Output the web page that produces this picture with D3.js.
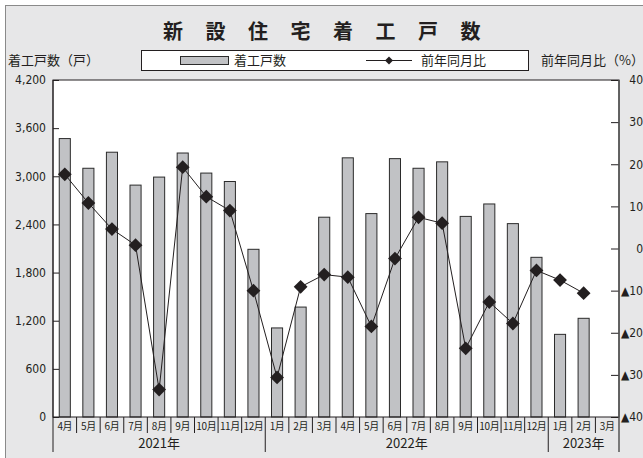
<!DOCTYPE html>
<html>
<head>
<meta charset="utf-8">
<script src="https://cdn.jsdelivr.net/npm/d3@7"></script>
<style>
  body { margin: 0; background: #fff; }
  text { fill: #231f20; }
  .jp { font-family: "Noto Sans CJK JP", sans-serif; }
  .num { font-family: "Liberation Sans Narrow", "DejaVu Sans Condensed", sans-serif; }
</style>
</head>
<body>
<div id="chart"></div>
<script>
// data
const periods = ['2021-04','2021-05','2021-06','2021-07','2021-08','2021-09','2021-10','2021-11','2021-12',
    '2022-01','2022-02','2022-03','2022-04','2022-05','2022-06','2022-07','2022-08','2022-09','2022-10','2022-11','2022-12',
    '2023-01','2023-02','2023-03']
const monthLabels = ['4月','5月','6月','7月','8月','9月','10月','11月','12月',
    '1月','2月','3月','4月','5月','6月','7月','8月','9月','10月','11月','12月',
    '1月','2月','3月']
const starts = [3470, 3100, 3300, 2890, 2990, 3290, 3040, 2935, 2090,
    1110, 1370, 2490, 3230, 2535, 3220, 3100, 3180, 2500, 2655, 2410, 1990,
    1030, 1230, 0]
const yoy = [17.6, 10.8, 4.6, 0.8, -33.5, 19.3, 12.3, 9.0, -10.0,
    -30.6, -9.1, -6.2, -6.8, -18.5, -2.4, 7.4, 6.0, -23.7, -12.7, -17.8, -5.2,
    -7.5, -10.6, null]
const yearLabels = ['2021年', '2022年', '2023年']
const yearStart = ['2021-04', '2022-01', '2023-01']
const yearEnd = ['2021-12', '2022-12', '2023-03']
const leftTicks = [0, 600, 1200, 1800, 2400, 3000, 3600, 4200]
const rightTicks = [-40, -30, -20, -10, 0, 10, 20, 30, 40]

const dim = { width: 643, height: 458 }
const plot = { left: 53, right: 619, top: 80, bottom: 417 }
const dark = '#231f20'

const svg = d3.select('#chart')
    .append('svg')
        .attr('width', dim.width)
        .attr('height', dim.height)

// frame
svg.append('rect')
    .attr('x', 5.5).attr('y', 5.5)
    .attr('width', dim.width).attr('height', dim.height)
    .attr('fill', '#e7e7e8')
    .attr('stroke', '#8a8a8a')

svg.append('rect')
    .attr('x', plot.left).attr('y', plot.top)
    .attr('width', plot.right - plot.left).attr('height', plot.bottom - plot.top)
    .attr('fill', '#fff')

// scales
const xScale = d3.scaleBand()
    .domain(periods)
    .range([plot.left, plot.right])

const yLeft = d3.scaleLinear()
    .domain([0, 4200])
    .range([plot.bottom, plot.top])

const yRight = d3.scaleLinear()
    .domain([-40, 40])
    .range([plot.bottom, plot.top])

// bars
const barW = xScale.bandwidth() * 0.47
svg.append('g')
    .selectAll('rect')
    .data(periods)
    .join('rect')
        .attr('x', d => xScale(d) + (xScale.bandwidth() - barW) / 2)
        .attr('y', (d, i) => yLeft(starts[i]))
        .attr('width', barW)
        .attr('height', (d, i) => yLeft(0) - yLeft(starts[i]))
        .attr('fill', '#c1c2c5')
        .attr('stroke', '#2b2b2b')
        .attr('stroke-width', 1)

// line + markers
const pts = periods.map((p, i) => ({ p, v: yoy[i] })).filter(d => d.v !== null)
const line = d3.line()
    .x(d => xScale(d.p) + xScale.bandwidth() / 2)
    .y(d => yRight(d.v))

svg.append('path')
    .datum(pts)
    .attr('d', line)
    .attr('fill', 'none')
    .attr('stroke', dark)
    .attr('stroke-width', 1)

const diamond = d3.symbol().type(d3.symbolSquare).size(95)
svg.append('g')
    .selectAll('path')
    .data(pts)
    .join('path')
        .attr('d', diamond)
        .attr('transform', d => `translate(${xScale(d.p) + xScale.bandwidth() / 2},${yRight(d.v)}) rotate(45)`)
        .attr('fill', dark)

// plot outline
svg.append('rect')
    .attr('x', plot.left).attr('y', plot.top)
    .attr('width', plot.right - plot.left).attr('height', plot.bottom - plot.top)
    .attr('fill', 'none')
    .attr('stroke', dark)

// axes
const leftAxis = svg.append('g')
    .attr('transform', `translate(${plot.left},0)`)
    .call(d3.axisLeft(yLeft).tickValues(leftTicks).tickSize(-6).tickPadding(7).tickFormat(d3.format(',')))
leftAxis.select('.domain').remove()
leftAxis.selectAll('text').attr('class', 'num').attr('font-size', 12).attr('fill', '#333')
leftAxis.selectAll('line').attr('stroke', dark)

const rightAxis = svg.append('g')
    .attr('transform', `translate(${plot.right},0)`)
    .call(d3.axisRight(yRight).tickValues(rightTicks).tickSize(-8).tickPadding(24)
        .tickFormat(d => d < 0 ? '▲' + (-d) : d))
rightAxis.select('.domain').remove()
rightAxis.selectAll('text').attr('class', 'num').attr('font-size', 12).attr('fill', '#333')
    .attr('text-anchor', 'end')
rightAxis.selectAll('line').attr('stroke', dark)

// axis lines extended below
const axisBottom = 452
svg.append('line')
    .attr('x1', plot.left).attr('x2', plot.left)
    .attr('y1', plot.top).attr('y2', axisBottom)
    .attr('stroke', dark)
svg.append('line')
    .attr('x1', plot.right).attr('x2', plot.right)
    .attr('y1', plot.top).attr('y2', axisBottom)
    .attr('stroke', '#555')
    .attr('stroke-width', 1.5)

// month separators and labels
const cats = svg.append('g')
cats.selectAll('line')
    .data(periods.slice(1))
    .join('line')
        .attr('x1', d => xScale(d)).attr('x2', d => xScale(d))
        .attr('y1', plot.bottom)
        .attr('y2', d => yearStart.includes(d) ? axisBottom : 433)
        .attr('stroke', dark)

cats.selectAll('text')
    .data(periods)
    .join('text')
        .attr('class', 'jp')
        .attr('x', d => xScale(d) + xScale.bandwidth() / 2)
        .attr('y', 430)
        .attr('text-anchor', 'middle')
        .attr('font-size', 10)
        .attr('letter-spacing', -0.4)
        .text((d, i) => monthLabels[i])

svg.append('g')
    .selectAll('text')
    .data(yearLabels)
    .join('text')
        .attr('class', 'jp')
        .attr('x', (d, i) => (xScale(yearStart[i]) + xScale(yearEnd[i]) + xScale.bandwidth()) / 2)
        .attr('y', 448)
        .attr('text-anchor', 'middle')
        .attr('font-size', 13)
        .text(d => d)

// title
svg.append('text')
    .attr('class', 'jp')
    .attr('x', 163)
    .attr('y', 39)
    .attr('font-size', 20)
    .attr('font-weight', 'bold')
    .attr('letter-spacing', 22.5)
    .text('新設住宅着工戸数')

// axis titles
svg.append('text')
    .attr('class', 'jp')
    .attr('x', 8).attr('y', 65)
    .attr('font-size', 13)
    .text('着工戸数（戸）')

svg.append('text')
    .attr('class', 'jp')
    .attr('x', 541).attr('y', 65)
    .attr('font-size', 13)
    .text('前年同月比（%）')

// legend
const legend = svg.append('g')
legend.append('rect')
    .attr('x', 141.5).attr('y', 50.5)
    .attr('width', 387).attr('height', 20)
    .attr('fill', '#fff')
    .attr('stroke', dark)
legend.append('rect')
    .attr('x', 180.5).attr('y', 56.5)
    .attr('width', 48).attr('height', 8)
    .attr('fill', '#c1c2c5')
    .attr('stroke', '#2b2b2b')
legend.append('text')
    .attr('class', 'jp')
    .attr('x', 234).attr('y', 65)
    .attr('font-size', 13)
    .text('着工戸数')
legend.append('line')
    .attr('x1', 366).attr('x2', 412)
    .attr('y1', 60.5).attr('y2', 60.5)
    .attr('stroke', dark)
legend.append('path')
    .attr('d', d3.symbol().type(d3.symbolSquare).size(32))
    .attr('transform', 'translate(389,60.5) rotate(45)')
    .attr('fill', dark)
legend.append('text')
    .attr('class', 'jp')
    .attr('x', 421).attr('y', 65)
    .attr('font-size', 13)
    .text('前年同月比')
</script>
</body>
</html>
